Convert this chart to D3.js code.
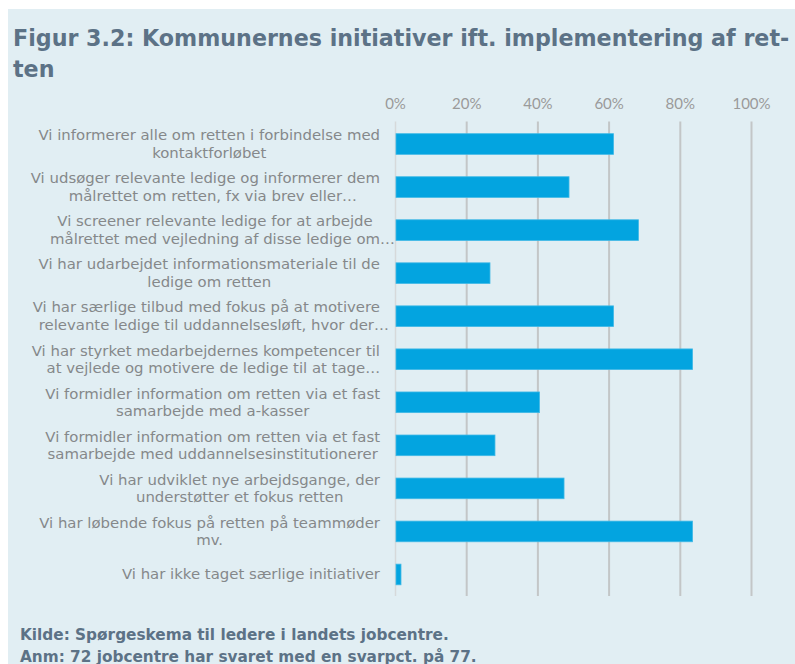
<!DOCTYPE html>
<html>
<head>
<meta charset="utf-8">
<script src="https://cdn.jsdelivr.net/npm/d3@7"></script>
<style>
  html, body { margin: 0; padding: 0; background: #ffffff; }
  svg { display: block; }
</style>
</head>
<body>
<div id="chart"></div>
<script>
// ---- data ----
const titleLines = ["Figur 3.2: Kommunernes initiativer ift. implementering af ret-", "ten"];
const categories = [
  "Vi informerer alle om retten i forbindelse med\nkontaktforløbet",
  "Vi udsøger relevante ledige og informerer dem\nmålrettet om retten, fx via brev eller…",
  "Vi screener relevante ledige for at arbejde\nmålrettet med vejledning af disse ledige om…",
  "Vi har udarbejdet informationsmateriale til de\nledige om retten",
  "Vi har særlige tilbud med fokus på at motivere\nrelevante ledige til uddannelsesløft, hvor der…",
  "Vi har styrket medarbejdernes kompetencer til\nat vejlede og motivere de ledige til at tage…",
  "Vi formidler information om retten via et fast\nsamarbejde med a-kasser",
  "Vi formidler information om retten via et fast\nsamarbejde med uddannelsesinstitutionerer",
  "Vi har udviklet nye arbejdsgange, der\nunderstøtter et fokus retten",
  "Vi har løbende fokus på retten på teammøder\nmv.",
  "Vi har ikke taget særlige initiativer"
];
const values = [61.1, 48.6, 68.1, 26.4, 61.1, 83.3, 40.3, 27.8, 47.2, 83.3, 1.4];
const tickValues = [0, 20, 40, 60, 80, 100];
const tickLabels = ["0%", "20%", "40%", "60%", "80%", "100%"];
const footerLines = ["Kilde: Spørgeskema til ledere i landets jobcentre.", "Anm: 72 jobcentre har svaret med en svarpct. på 77."];

// ---- layout ----
const W = 795, H = 664;
const svg = d3.select("#chart").append("svg").attr("width", W).attr("height", H);

svg.append("rect").attr("x", 8).attr("y", 9).attr("width", W - 8).attr("height", H - 9)
  .attr("fill", "#e1eef3");

// title
const titleColor = "#5c7286";
const title = svg.append("g");
titleLines.forEach((t, i) => {
  title.append("text")
    .attr("x", 13).attr("y", 46 + i * 31)
    .attr("font-family", "DejaVu Sans")
    .attr("font-weight", "bold")
    .attr("font-size", 22)
    .attr("fill", titleColor)
    .text(t);
});
{
  const first = title.select("text").node();
  const w = first.getComputedTextLength();
  const fs = 22 * 777 / w;
  title.selectAll("text").attr("font-size", fs);
}

const x = d3.scaleLinear().domain([0, 100]).range([395, 751]);
const y = d3.scaleBand().domain(categories).range([122.5, 596]).paddingInner(0.52).paddingOuter(0.26);

// axis + grid
const axis = d3.axisTop(x)
  .tickValues(tickValues)
  .tickFormat((d, i) => tickLabels[i])
  .tickSize(-(596 - 121.5))
  .tickPadding(13);

const ax = svg.append("g").attr("transform", "translate(0,121.5)").call(axis);
ax.select(".domain").remove();
ax.selectAll(".tick line")
  .attr("stroke", (d) => d === 0 ? "#d6d9da" : "#c3c6c7")
  .attr("stroke-width", (d) => d === 0 ? 1.5 : 2);
ax.selectAll(".tick text")
  .attr("font-family", "Lato")
  .attr("font-size", 15)
  .attr("fill", "#9a9a9a");

// bars
svg.append("g").selectAll("rect").data(values).join("rect")
  .attr("x", x(0) + 1)
  .attr("y", (d, i) => y(categories[i]))
  .attr("width", (d) => x(d) - x(0))
  .attr("height", y.bandwidth())
  .attr("fill", "#03a4e0")
  .attr("stroke", "#40b9e6")
  .attr("stroke-width", 0.8);

// category labels
const labelRight = 380;
const lineH = 17.5;
const labelFs = 14.9;
const lg = svg.append("g");
categories.forEach((c, i) => {
  const lines = c.split("\n");
  const cy = y(c) + y.bandwidth() / 2;
  const n = lines.length;
  const texts = lines.map((ln, j) => lg.append("text")
    .attr("font-family", "DejaVu Sans")
    .attr("font-size", labelFs)
    .attr("fill", "#85888a")
    .attr("y", cy + (j - (n - 1) / 2) * lineH + 5)
    .text(ln));
  const baseW = lines.map((ln) => {
    const base = ln.replace(/…$/, "");
    const t = lg.append("text").attr("font-family", "DejaVu Sans").attr("font-size", labelFs).text(base);
    const w = t.node().getComputedTextLength();
    t.remove();
    return w;
  });
  const maxW = d3.max(baseW);
  const center = labelRight - maxW / 2;
  texts.forEach((t, j) => t.attr("x", center - baseW[j] / 2));
});

// footer
footerLines.forEach((t, i) => {
  svg.append("text")
    .attr("x", 20).attr("y", 640 + i * 21.5)
    .attr("font-family", "DejaVu Sans")
    .attr("font-weight", "bold")
    .attr("font-size", 15.3)
    .attr("fill", titleColor)
    .text(t);
});
</script>
</body>
</html>
